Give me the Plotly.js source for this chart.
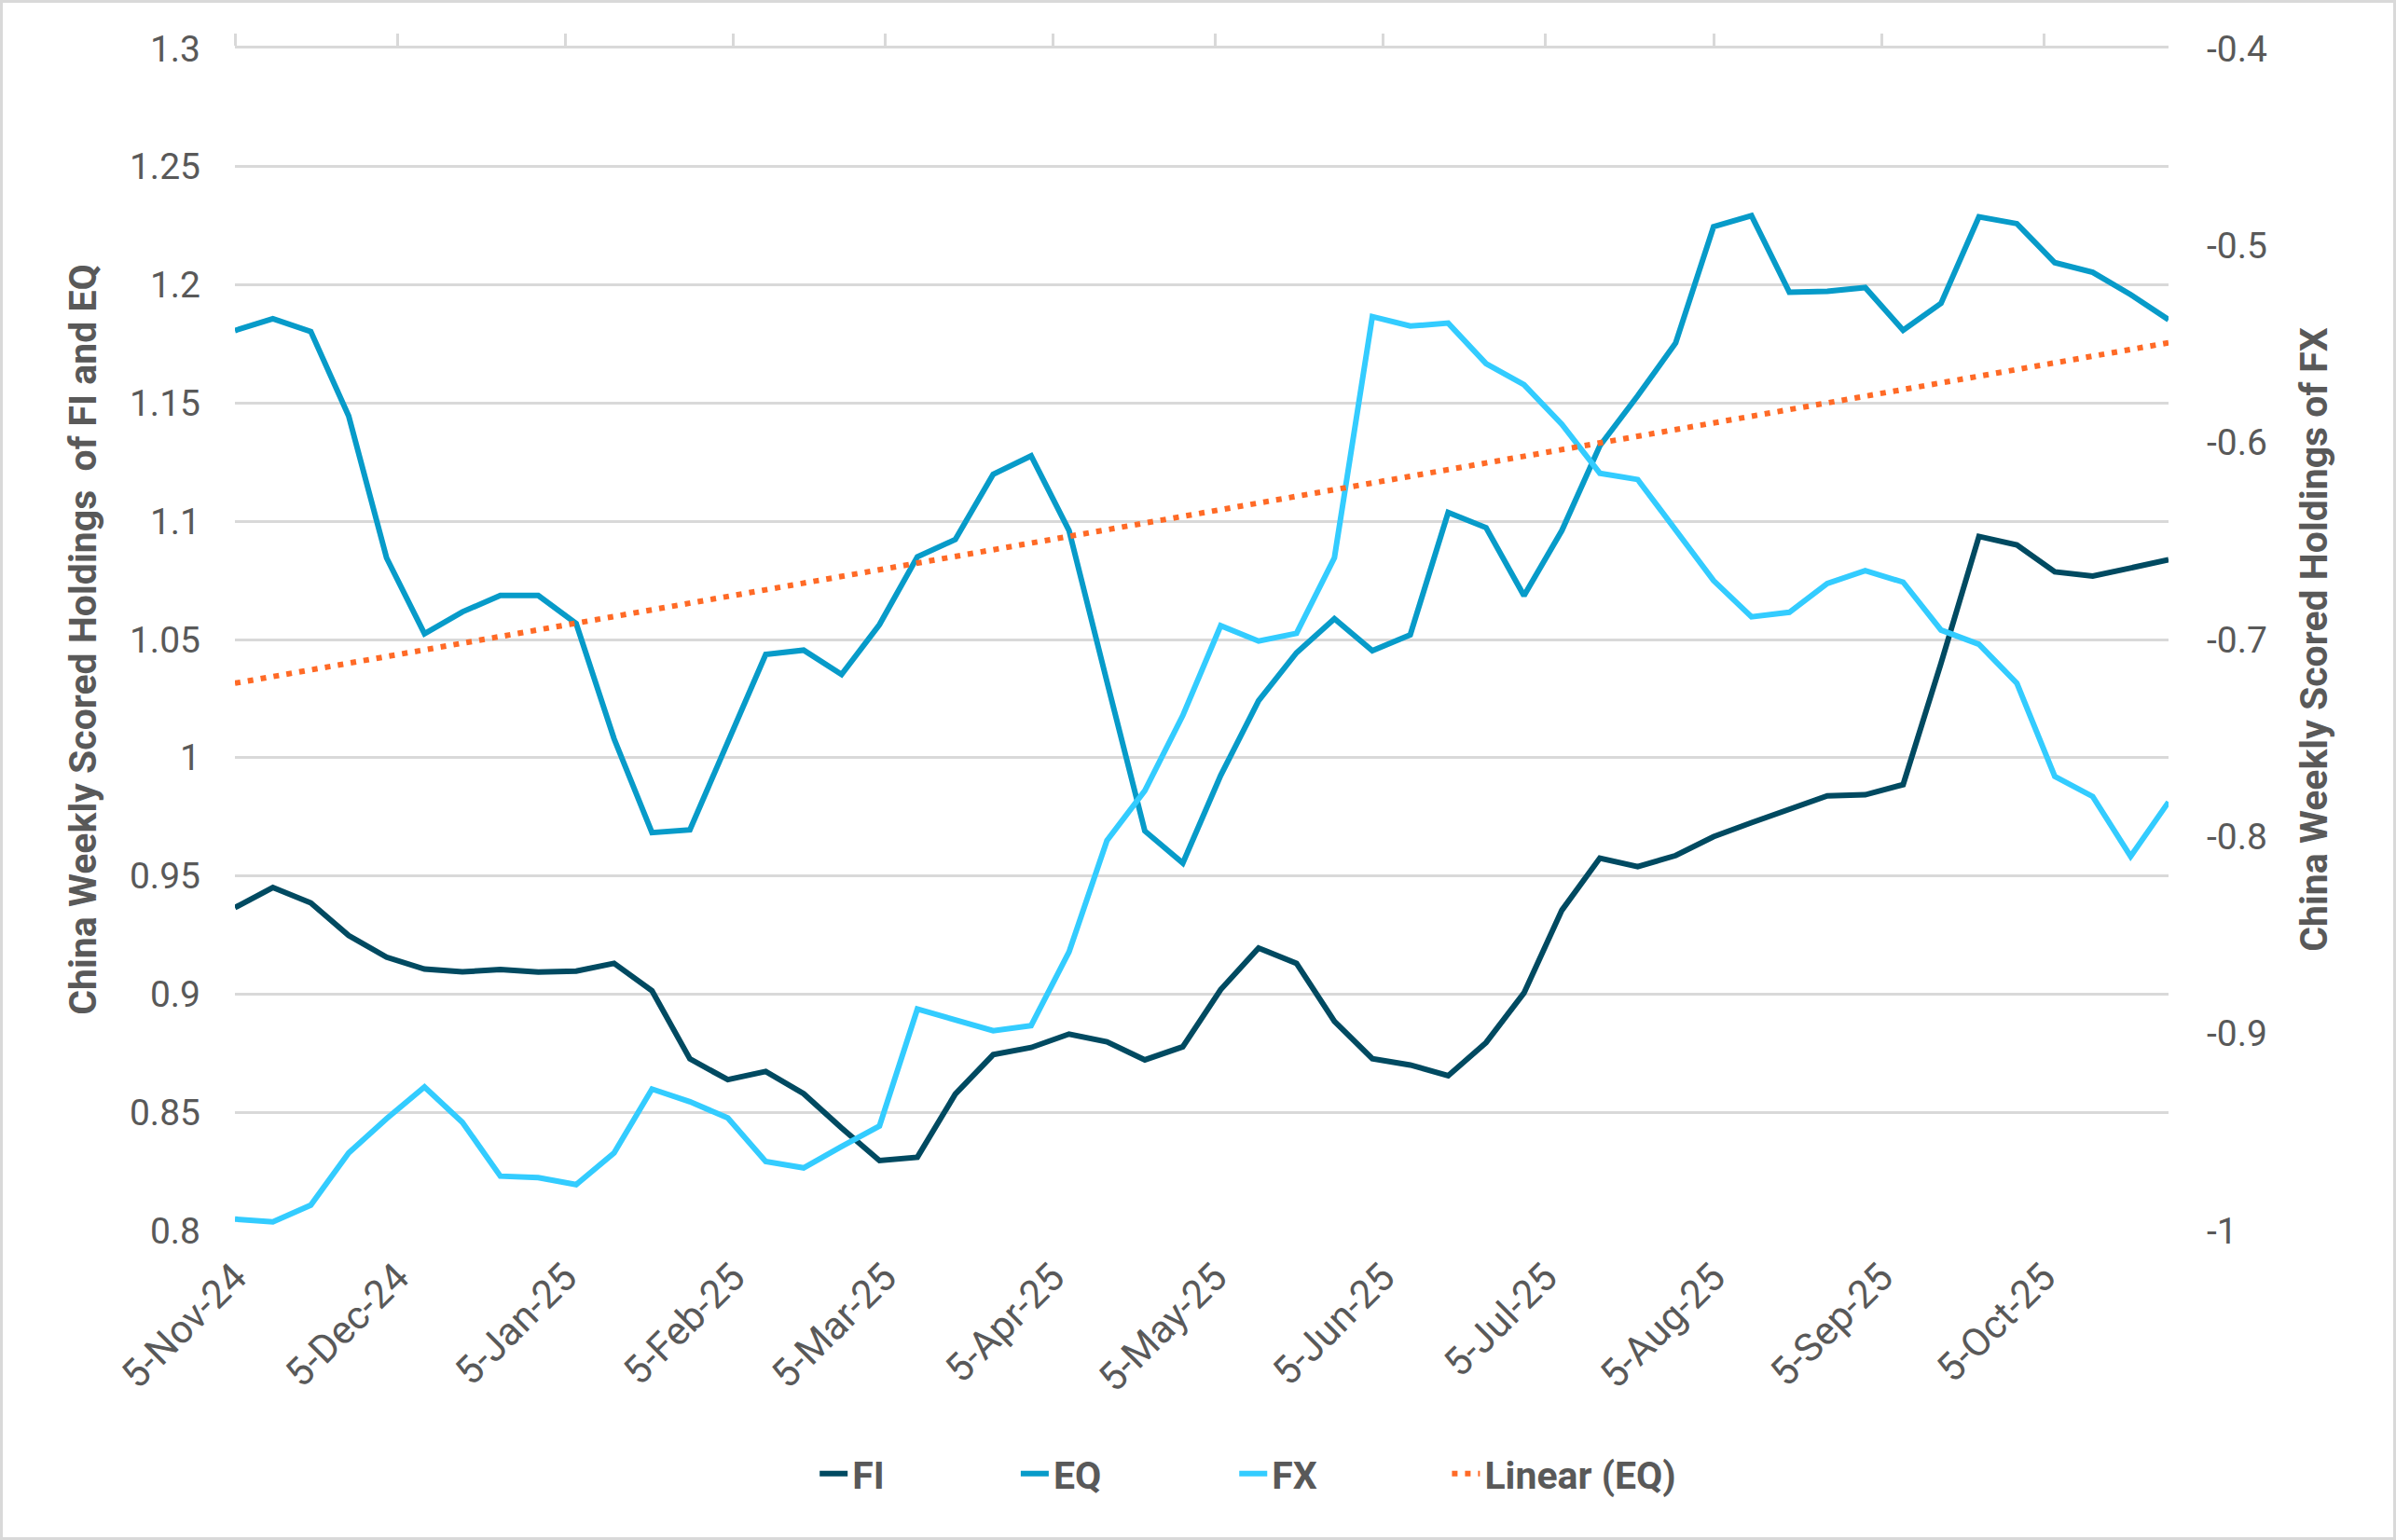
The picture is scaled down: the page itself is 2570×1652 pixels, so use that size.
<!DOCTYPE html>
<html>
<head>
<meta charset="utf-8">
<script src="https://cdn.plot.ly/plotly-3.0.1.min.js"></script>
<style>
  body { margin: 0; background: #fff; }
  #frame { width: 2570px; height: 1652px; box-sizing: border-box; border: 3px solid #d9d9d9; background: #fff; }
  #chart { width: 2564px; height: 1646px; }
</style>
</head>
<body>
<div id="frame"><div id="chart"></div></div>
<script>
// weekly observation dates (Tuesdays)
const dates = [
  '2024-11-05','2024-11-12','2024-11-19','2024-11-26','2024-12-03','2024-12-10','2024-12-17','2024-12-24','2024-12-31',
  '2025-01-07','2025-01-14','2025-01-21','2025-01-28','2025-02-04','2025-02-11','2025-02-18','2025-02-25',
  '2025-03-04','2025-03-11','2025-03-18','2025-03-25','2025-04-01','2025-04-08','2025-04-15','2025-04-22','2025-04-29',
  '2025-05-06','2025-05-13','2025-05-20','2025-05-27','2025-06-03','2025-06-10','2025-06-17','2025-06-24',
  '2025-07-01','2025-07-08','2025-07-15','2025-07-22','2025-07-29','2025-08-05','2025-08-12','2025-08-19','2025-08-26',
  '2025-09-02','2025-09-09','2025-09-16','2025-09-23','2025-09-30','2025-10-07','2025-10-14','2025-10-21','2025-10-28'
];

// left axis series
const fiValues = [
  0.9366, 0.9451, 0.9386, 0.9248, 0.9156, 0.9106, 0.9094, 0.9104, 0.9093,
  0.9097, 0.9130, 0.9014, 0.8726, 0.8638, 0.8673, 0.8579, 0.8434,
  0.8296, 0.8310, 0.8577, 0.8744, 0.8774, 0.8831, 0.8798, 0.8722, 0.8777,
  0.9019, 0.9195, 0.9130, 0.8885, 0.8727, 0.8700, 0.8655, 0.8795,
  0.9005, 0.9355, 0.9575, 0.9539, 0.9586, 0.9666, 0.9725, 0.9780, 0.9839,
  0.9843, 0.9886, 1.0400, 1.0936, 1.0900, 1.0786, 1.0768, 1.0801, 1.0837
];
const eqValues = [
  1.1807, 1.1857, 1.1803, 1.1445, 1.0845, 1.0524, 1.0617, 1.0686, 1.0686,
  1.0568, 1.0080, 0.9683, 0.9695, 1.0071, 1.0437, 1.0455, 1.0352,
  1.0563, 1.0850, 1.0923, 1.1199, 1.1277, 1.0961, 1.0322, 0.9690, 0.9554,
  0.9925, 1.0241, 1.0444, 1.0588, 1.0453, 1.0520, 1.1037, 1.0973,
  1.0685, 1.0961, 1.1319, 1.1531, 1.1754, 1.2246, 1.2293, 1.1969, 1.1973,
  1.1989, 1.1808, 1.1922, 1.2288, 1.2259, 1.2094, 1.2053, 1.1959, 1.1853
];
// right axis series
const fxValues = [
  -0.9942, -0.9956, -0.9871, -0.9606, -0.9432, -0.9271, -0.9451, -0.9724, -0.9732,
  -0.9767, -0.9606, -0.9282, -0.9346, -0.9429, -0.9650, -0.9682, -0.9574,
  -0.9470, -0.8876, -0.8932, -0.8986, -0.8960, -0.8586, -0.8021, -0.7767, -0.7386,
  -0.6930, -0.7008, -0.6969, -0.6585, -0.5361, -0.5409, -0.5394, -0.5600,
  -0.5707, -0.5908, -0.6156, -0.6188, -0.6444, -0.6701, -0.6885, -0.6862, -0.6716,
  -0.6651, -0.6709, -0.6952, -0.7024, -0.7222, -0.7695, -0.7797, -0.8101, -0.7825
];
// Linear (EQ) trendline, ends
const trendDates = ['2024-11-05', '2025-10-28'];
const trendValues = [1.0315, 1.1755];

const leftTicks = [0.8, 0.85, 0.9, 0.95, 1, 1.05, 1.1, 1.15, 1.2, 1.25, 1.3];
const rightTicks = [-1, -0.9, -0.8, -0.7, -0.6, -0.5, -0.4];

const grey = '#595959';
const gridGrey = '#d9d9d9';
const tickFont = { family: 'Roboto, sans-serif', size: 39, color: grey };
const dateFont = { family: 'Roboto, sans-serif', size: 42, color: grey };
const boldFont = { family: 'Roboto, sans-serif', size: 41, color: grey, weight: 'bold' };
const xRange = [dates[0], dates[dates.length - 1]];

const traces = [
  { x: dates, y: fiValues, name: 'FI', type: 'scatter', mode: 'lines',
    line: { color: '#004a61', width: 6 }, xaxis: 'x', yaxis: 'y', legend: 'legend' },
  { x: dates, y: eqValues, name: 'EQ', type: 'scatter', mode: 'lines',
    line: { color: '#079bc9', width: 6 }, xaxis: 'x', yaxis: 'y', legend: 'legend2' },
  { x: dates, y: fxValues, name: 'FX', type: 'scatter', mode: 'lines',
    line: { color: '#33ccff', width: 6 }, xaxis: 'x', yaxis: 'y2', legend: 'legend3' },
  { x: trendDates, y: trendValues, name: 'Linear (EQ)', type: 'scatter', mode: 'lines',
    line: { color: '#ff6a26', width: 6, dash: '6px,8px' }, xaxis: 'x2', yaxis: 'y', legend: 'legend4' }
];

// one legend box per entry so the entries can be spread out like the original
function legendAt(x) {
  return {
    orientation: 'h', x: x, xanchor: 'left', y: -0.206, yanchor: 'middle',
    font: boldFont, bgcolor: 'rgba(0,0,0,0)'
  };
}

const layout = {
  width: 2564,
  height: 1646,
  margin: { l: 249, r: 241, t: 49, b: 329 },
  paper_bgcolor: '#fff',
  plot_bgcolor: '#fff',
  font: tickFont,
  showlegend: true,
  xaxis: {
    type: 'date', range: xRange,
    tick0: '2024-11-05', dtick: 'M1', tickformat: '%-d-%b-%y',
    tickangle: -45, tickfont: dateFont, ticks: '',
    ticklabelstandoff: 16,
    showgrid: false, zeroline: false, showline: false
  },
  xaxis2: {
    type: 'date', range: xRange, overlaying: 'x', side: 'top', anchor: 'y',
    tick0: '2024-11-05', dtick: 'M1',
    showticklabels: false, ticks: 'outside', ticklen: 13, tickwidth: 3, tickcolor: gridGrey,
    showline: true, linecolor: gridGrey, linewidth: 3,
    showgrid: false, zeroline: false
  },
  yaxis: {
    range: [0.8, 1.3], tickvals: leftTicks, ticktext: leftTicks.map(String),
    tickfont: tickFont, ticks: '', ticklabelstandoff: 36,
    showgrid: true, gridcolor: gridGrey, gridwidth: 3,
    zeroline: false, showline: false,
    title: { text: 'China Weekly Scored Holdings  of FI and EQ', font: boldFont, standoff: 22 }
  },
  yaxis2: {
    range: [-1, -0.4], overlaying: 'y', side: 'right', anchor: 'x',
    tickvals: rightTicks, ticktext: rightTicks.map(String),
    tickfont: tickFont, ticks: '', ticklabelstandoff: 40,
    showgrid: false, zeroline: false, showline: false,
    title: { text: 'China Weekly Scored Holdings of FX', font: boldFont, standoff: 36 }
  },
  legend: legendAt(0.300),
  legend2: legendAt(0.404),
  legend3: legendAt(0.517),
  legend4: legendAt(0.627)
};

Plotly.newPlot('chart', traces, layout, { displayModeBar: false, staticPlot: true });
</script>
</body>
</html>
